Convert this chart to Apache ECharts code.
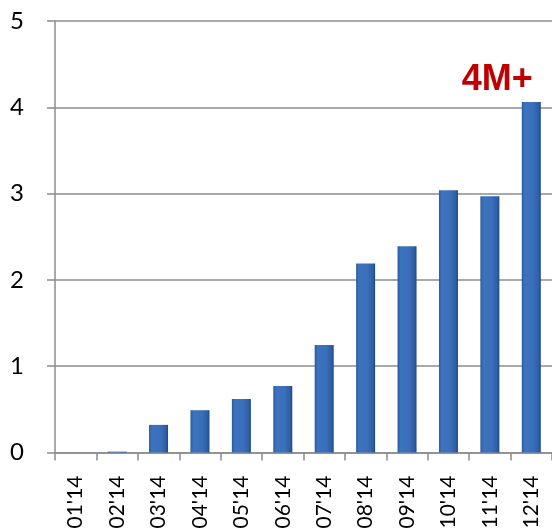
<!DOCTYPE html>
<html>
<head>
<meta charset="utf-8">
<script src="https://cdn.jsdelivr.net/npm/echarts@6/dist/echarts.min.js"></script>
<style>html,body{margin:0;padding:0;background:#fff;}#c{width:552px;height:531px;}</style>
</head>
<body>
<div id="c"></div>
<script>
var categories = ["01'14","02'14","03'14","04'14","05'14","06'14","07'14","08'14","09'14","10'14","11'14","12'14"];
var values = [0, 0.01, 0.32, 0.49, 0.62, 0.77, 1.245, 2.19, 2.39, 3.04, 2.97, 4.06];
var yTicks = [0, 1, 2, 3, 4, 5];
var annotationIndex = 11;
var annotationText = "4M+";

var chart = echarts.init(document.getElementById('c'));
var barColor = {
  type: 'linear', x: 0, y: 0, x2: 1, y2: 0,
  colorStops: [
    {offset: 0, color: '#2a5a9c'},
    {offset: 0.15, color: '#3c73bf'},
    {offset: 0.6, color: '#3a6fba'},
    {offset: 0.88, color: '#2f5fa6'},
    {offset: 1, color: '#1d4780'}
  ]
};
var data = values.map(function (v, i) {
  var d = {value: v};
  if (i === annotationIndex) {
    d.label = {
      show: true, position: 'top', offset: [-34, 1],
      formatter: annotationText,
      color: '#C00000', fontFamily: 'Liberation Sans', fontWeight: 'bold', fontSize: 36
    };
  }
  return d;
});
chart.setOption({
  animation: false,
  grid: {left: 55, right: 0, top: 21, bottom: 78.5, containLabel: false, outerBoundsMode: 'none'},
  xAxis: {
    type: 'category', data: categories,
    axisLine: {lineStyle: {color: '#8c8c8c', width: 1.5}},
    axisTick: {show: true, length: 8, lineStyle: {color: '#8c8c8c', width: 1.5}},
    axisLabel: {rotate: 90, margin: 23, color: '#000', fontFamily: 'Lato', fontSize: 21, interval: 0}
  },
  yAxis: {
    type: 'value', min: yTicks[0], max: yTicks[yTicks.length - 1], interval: 1,
    axisLine: {show: true, lineStyle: {color: '#8c8c8c', width: 1.5}},
    axisTick: {show: true, length: 8, lineStyle: {color: '#8c8c8c', width: 1.5}},
    splitLine: {show: true, lineStyle: {color: '#8c8c8c', width: 1.5}},
    axisLabel: {margin: 31, color: '#000', fontFamily: 'Lato', fontSize: 24}
  },
  series: [{
    type: 'bar', data: data, barWidth: 19,
    itemStyle: {color: barColor}
  }]
});
</script>
</body>
</html>
